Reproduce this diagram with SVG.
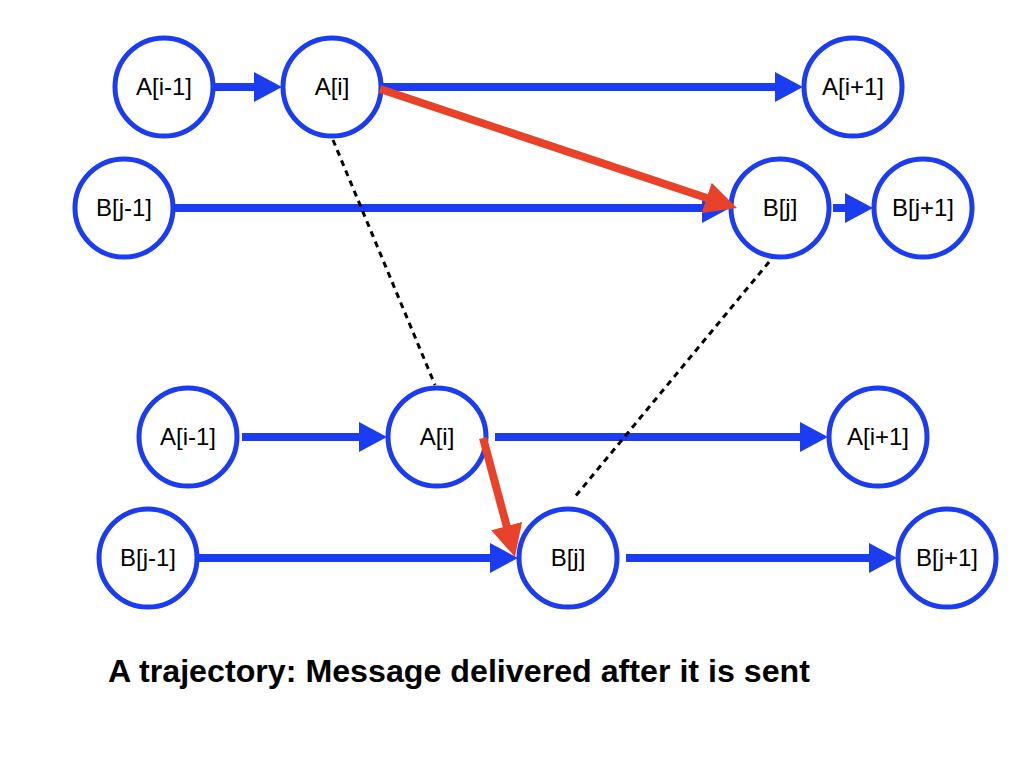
<svg xmlns="http://www.w3.org/2000/svg" width="1024" height="768" viewBox="0 0 1024 768">
<style>
.node circle { fill: #ffffff; stroke: #1c3cf2; stroke-width: 5; }
.node text { font-family: "Liberation Sans", Arial, sans-serif; font-size: 24px; fill: #000000; text-anchor: middle; }
.blue { stroke: #1c3cf2; stroke-width: 8; fill: none; marker-end: url(#ab); }
.red { stroke: #e8432a; stroke-width: 8; fill: none; marker-end: url(#ar); }
.dot { stroke: #000000; stroke-width: 3; stroke-dasharray: 6 5; fill: none; }
.caption { font-family: "Liberation Sans", Arial, sans-serif; font-weight: bold; font-size: 32px; fill: #000000; }
</style>
<defs>
<marker id="ab" markerUnits="userSpaceOnUse" markerWidth="28" markerHeight="30" refX="14" refY="15" orient="auto" viewBox="0 0 28 30">
<path d="M0,0 L28,15 L0,30 z" fill="#1c3cf2"/>
</marker>
<marker id="ar" markerUnits="userSpaceOnUse" markerWidth="32" markerHeight="32" refX="16" refY="16" orient="auto" viewBox="0 0 32 32">
<path d="M0,0 L32,16 L0,32 z" fill="#e8432a"/>
</marker>
</defs>
<rect width="1024" height="768" fill="#ffffff"/>
<g id="topA_im1" class="node"><circle cx="164" cy="87" r="49"/><text x="164" y="95">A[i-1]</text></g>
<g id="topA_i" class="node"><circle cx="332" cy="87" r="49"/><text x="332" y="95">A[i]</text></g>
<g id="topA_ip1" class="node"><circle cx="853" cy="87" r="49"/><text x="853" y="95">A[i+1]</text></g>
<g id="topB_jm1" class="node"><circle cx="124" cy="208" r="49"/><text x="124" y="216">B[j-1]</text></g>
<g id="topB_j" class="node"><circle cx="780" cy="208" r="49"/><text x="780" y="216">B[j]</text></g>
<g id="topB_jp1" class="node"><circle cx="923" cy="208" r="49"/><text x="923" y="216">B[j+1]</text></g>
<g id="botA_im1" class="node"><circle cx="188" cy="437" r="49"/><text x="188" y="445">A[i-1]</text></g>
<g id="botA_i" class="node"><circle cx="437" cy="437" r="49"/><text x="437" y="445">A[i]</text></g>
<g id="botA_ip1" class="node"><circle cx="878" cy="437" r="49"/><text x="878" y="445">A[i+1]</text></g>
<g id="botB_jm1" class="node"><circle cx="148" cy="558" r="49"/><text x="148" y="566">B[j-1]</text></g>
<g id="botB_j" class="node"><circle cx="568" cy="558" r="49"/><text x="568" y="566">B[j]</text></g>
<g id="botB_jp1" class="node"><circle cx="947" cy="558" r="49"/><text x="947" y="566">B[j+1]</text></g>
<g id="connectors">
<path class="blue" d="M213,87 L268,87"/>
<path class="blue" d="M383,87 L789,87"/>
<path class="blue" d="M173,208 L716,208"/>
<path class="blue" d="M833,208 L859,208"/>
<path class="blue" d="M242,437 L373,437"/>
<path class="blue" d="M495,437 L814,437"/>
<path class="blue" d="M198,558 L504,558"/>
<path class="blue" d="M626,558 L883,558"/>
<path class="dot" d="M333,140 L435,385"/>
<path class="dot" d="M769,262 L574,498"/>
<path class="red" d="M380,89 L721.8,203"/>
<path class="red" d="M483,438 L510.8,541.5"/>
</g>
<text class="caption" x="108" y="682" textLength="702" lengthAdjust="spacingAndGlyphs">A trajectory: Message delivered after it is sent</text>
</svg>
